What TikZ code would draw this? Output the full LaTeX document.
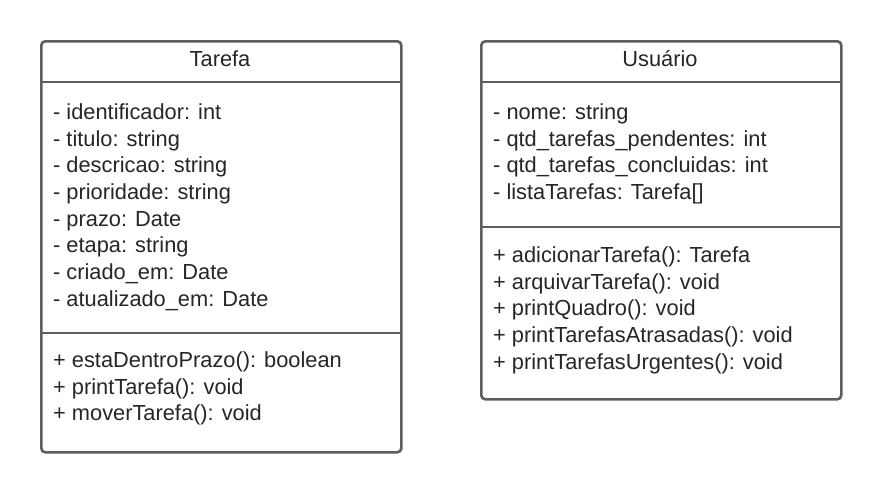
\documentclass[tikz,border=0pt]{standalone}
\usepackage{fontspec}
\setmainfont{Liberation Sans}
\definecolor{edge}{HTML}{5E5E5E}
\definecolor{ink}{HTML}{262626}
\tikzset{
  umlbox/.style={draw=edge, line width=2.6pt, rounded corners=4pt, fill=white, inner sep=0pt, anchor=north west},
  divider/.style={draw=edge, line width=2.6pt},
  member/.style={anchor=base west, inner sep=0pt, text=ink, font=\fontsize{21.8}{26}\selectfont},
  title/.style={anchor=base, inner sep=0pt, text=ink, font=\fontsize{21.8}{26}\selectfont},
}
\begin{document}
\begin{tikzpicture}[x=1pt,y=-1pt]
\useasboundingbox (0,0) rectangle (880,491);
% Tarefa
\node[umlbox, minimum width=360pt, minimum height=411pt] (tbox) at (40,40) {};
\coordinate (t1l) at (40,82); \coordinate (t1r) at (400,82);
\coordinate (t2l) at (40,333); \coordinate (t2r) at (400,333);
\draw[divider] (t1l) -- (t1r);
\draw[divider] (t2l) -- (t2r);
\node[title] (ttitle) at (220,66) {Tarefa};
\node[member] (ta1) at (53,119) {- identificador: int};
\node[member] (ta2) at (53,146) {- titulo: string};
\node[member] (ta3) at (53,172) {- descricao: string};
\node[member] (ta4) at (53,199) {- prioridade: string};
\node[member] (ta5) at (53,226) {- prazo: Date};
\node[member] (ta6) at (53,252) {- etapa: string};
\node[member] (ta7) at (53,279) {- criado\_em: Date};
\node[member] (ta8) at (53,306) {- atualizado\_em: Date};
\node[member] (tm1) at (53,367) {+ estaDentroPrazo(): boolean};
\node[member] (tm2) at (53,394) {+ printTarefa(): void};
\node[member] (tm3) at (53,420) {+ moverTarefa(): void};
% Usuario
\node[umlbox, minimum width=360pt, minimum height=358pt] (ubox) at (480,40) {};
\coordinate (u1l) at (480,82); \coordinate (u1r) at (840,82);
\coordinate (u2l) at (480,227); \coordinate (u2r) at (840,227);
\draw[divider] (u1l) -- (u1r);
\draw[divider] (u2l) -- (u2r);
\node[title] (utitle) at (660,66) {Usuário};
\node[member] (ua1) at (493,119) {- nome: string};
\node[member] (ua2) at (493,146) {- qtd\_tarefas\_pendentes: int};
\node[member] (ua3) at (493,172) {- qtd\_tarefas\_concluidas: int};
\node[member] (ua4) at (493,199) {- listaTarefas: Tarefa[]};
\node[member] (um1) at (493,262) {+ adicionarTarefa(): Tarefa};
\node[member] (um2) at (493,289) {+ arquivarTarefa(): void};
\node[member] (um3) at (493,315) {+ printQuadro(): void};
\node[member] (um4) at (493,342) {+ printTarefasAtrasadas(): void};
\node[member] (um5) at (493,369) {+ printTarefasUrgentes(): void};
\end{tikzpicture}
\end{document}
